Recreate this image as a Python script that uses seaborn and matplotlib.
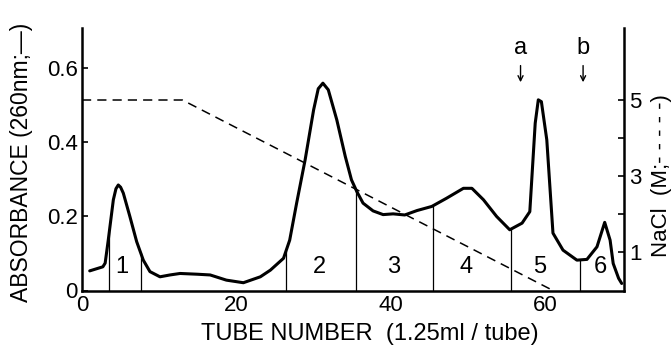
import numpy as np
import pandas as pd
import matplotlib
matplotlib.use("Agg")
import matplotlib.pyplot as plt
import seaborn as sns

# ---- data ----
tube = [1.0, 2.7, 3.0, 3.4, 4.06, 4.4, 4.7, 5.0, 5.35, 6.2, 7.08, 7.94, 8.8, 10.1, 11.4,
        12.7, 14.9, 16.6, 18.7, 20.9, 23.1, 24.4, 26.1, 26.9, 27.8, 28.9, 30.0, 30.6, 31.2,
        31.9, 33.0, 34.1, 34.9, 35.6, 36.4, 37.7, 39.0, 40.3, 41.8, 43.4, 45.3, 47.2, 49.4,
        50.5, 52.0, 53.7, 55.4, 57.0, 58.0, 58.7, 59.1, 59.5, 60.2, 61.0, 62.3, 64.1, 65.4,
        66.7, 67.7, 68.4, 68.8, 69.5, 69.9]
absorbance = [0.053, 0.064, 0.074, 0.136, 0.245, 0.275, 0.285, 0.279, 0.263, 0.200, 0.132,
              0.082, 0.051, 0.037, 0.042, 0.046, 0.044, 0.042, 0.028, 0.021, 0.037, 0.055,
              0.087, 0.136, 0.236, 0.353, 0.488, 0.545, 0.560, 0.542, 0.461, 0.362, 0.299,
              0.267, 0.236, 0.215, 0.205, 0.207, 0.204, 0.216, 0.227, 0.249, 0.276, 0.276,
              0.245, 0.200, 0.164, 0.182, 0.213, 0.452, 0.515, 0.510, 0.407, 0.155, 0.109,
              0.082, 0.084, 0.118, 0.184, 0.136, 0.073, 0.033, 0.019]

nacl_tube = [0, 13, 61]
nacl_conc = [5.0, 5.0, 0.0]

fraction_bounds = [3.55, 7.6, 26.4, 35.5, 45.5, 55.5, 64.5]
fraction_names = ["1", "2", "3", "4", "5", "6"]
fraction_label_x = [5.2, 30.7, 40.4, 49.8, 59.3, 67.1]

arrow_names = ["a", "b"]
arrow_x = [56.8, 64.9]

x_ticks = [0, 10, 20, 30, 40, 50, 60, 70]
x_ticklabels = ["0", "", "20", "", "40", "", "60", ""]
y_ticks = [0, 0.2, 0.4, 0.6]
y_ticklabels = ["0", "0.2", "0.4", "0.6"]
r_ticks = [1, 2, 3, 4, 5]
r_ticklabels = ["1", "", "3", "", "5"]

# ---- style ----
sns.set_theme(style="white")
plt.rcParams["font.family"] = ["Liberation Sans Narrow", "Liberation Sans", "DejaVu Sans"]
plt.rcParams["axes.linewidth"] = 1.8

fig = plt.figure(figsize=(6.71, 3.47), dpi=100)
ax = fig.add_axes([82 / 671, 1 - 290.5 / 347, (624 - 82) / 671, (290.5 - 28) / 347])

df = pd.DataFrame({"tube": tube, "abs": absorbance})
sns.lineplot(data=df, x="tube", y="abs", ax=ax, color="black", linewidth=2.2,
             sort=False, estimator=None)
ax.lines[-1].set_solid_joinstyle("round")

# fraction dividers
for xb in fraction_bounds:
    top = np.interp(xb, tube, absorbance)
    ax.vlines(xb, 0, top, color="black", linewidth=0.9)
for name, xl in zip(fraction_names, fraction_label_x):
    ax.text(xl, 0.064, name, ha="center", va="center", fontsize=17, color="black")

# arrows
for name, xa in zip(arrow_names, arrow_x):
    ax.annotate("", xy=(xa, 0.555), xytext=(xa, 0.615),
                arrowprops=dict(arrowstyle="->", color="black", lw=1.0, mutation_scale=9))
    ax.text(xa, 0.655, name, ha="center", va="center", fontsize=17, color="black")

ax.set_xlim(0, 70.2)
ax.set_ylim(0, 0.709)
ax.set_xticks(x_ticks)
ax.set_xticklabels(x_ticklabels)
ax.set_yticks(y_ticks)
ax.set_yticklabels(y_ticklabels)
ax.tick_params(axis="both", direction="in", length=4, width=1.2, labelsize=16,
               colors="black", pad=3)
ax.set_xlabel("")
ax.set_ylabel("")
for s in ["left", "bottom"]:
    ax.spines[s].set_color("black")
    ax.spines[s].set_linewidth(1.8)
ax.spines["top"].set_visible(False)
ax.spines["right"].set_visible(False)

ax2 = ax.twinx()
dn = pd.DataFrame({"tube": nacl_tube, "nacl": nacl_conc})
sns.lineplot(data=dn, x="tube", y="nacl", ax=ax2, color="black", linewidth=1.1,
             sort=False, estimator=None)
ax2.lines[-1].set_dashes([6, 4])
ax2.set_ylim(0, 6.89)
ax2.set_yticks(r_ticks)
ax2.set_yticklabels(r_ticklabels)
ax2.tick_params(axis="y", direction="in", length=4, width=1.2, labelsize=16,
                colors="black", pad=4)
ax2.set_ylabel("")
ax2.spines["top"].set_visible(False)
ax2.spines["left"].set_visible(False)
ax2.spines["bottom"].set_visible(False)
ax2.spines["right"].set_color("black")
ax2.spines["right"].set_linewidth(1.8)

fig.text(370 / 671, 1 - 334 / 347, "TUBE NUMBER  (1.25ml / tube)", ha="center",
         va="center", fontsize=17, color="black")
fig.text(22 / 671, 1 - 162 / 347, "ABSORBANCE (260nm;\u2014)", ha="center", va="center",
         rotation=90, fontsize=16.5, color="black")
fig.text(662 / 671, 1 - 176 / 347, "NaCl  (M;- - - - -)", ha="center", va="center",
         rotation=90, fontsize=16, color="black")

fig.savefig("out.png", dpi=100)
